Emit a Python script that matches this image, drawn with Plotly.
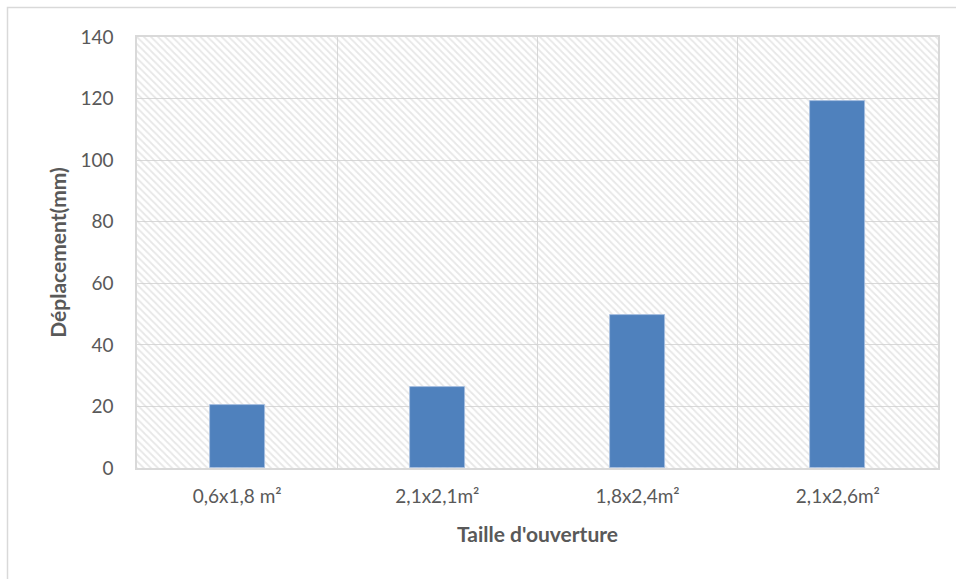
import plotly.graph_objects as go

categories = ["0,6x1,8 m²", "2,1x2,1m²", "1,8x2,4m²", "2,1x2,6m²"]
displacement_mm = [20.6, 26.2, 49.7, 119.3]
y_tick_values = [0, 20, 40, 60, 80, 100, 120, 140]

x_title = "Taille d'ouverture"
y_title = "Déplacement(mm)"

FONT = "Lato"
GRID = "#d9d9d9"
TEXT = "#595959"

fig = go.Figure()

# hatched plot-area background (drawn on base axis, under the data)
fig.add_trace(go.Bar(
    x=[0.5], y=[max(y_tick_values)], width=1,
    xaxis="x", yaxis="y",
    marker=dict(color="rgba(0,0,0,0)", line=dict(width=0),
                pattern=dict(shape="\\", fgcolor="#d0d0d0", bgcolor="rgba(0,0,0,0)",
                             size=5, solidity=0.35, fillmode="overlay")),
    hoverinfo="skip", showlegend=False,
))

fig.add_trace(go.Bar(
    x=categories, y=displacement_mm, width=0.275,
    xaxis="x2", yaxis="y",
    marker=dict(color="#4f81bd", line=dict(color="#a7bfdf", width=0.8)),
    showlegend=False,
))

W, H = 956, 579
L, R, T, B = 137, 18, 37, 111
pw, ph = W - L - R, H - T - B

fig.update_layout(
    width=W, height=H,
    margin=dict(l=L, r=R, t=T, b=B),
    paper_bgcolor="white", plot_bgcolor="white",
    font=dict(family=FONT, color=TEXT, size=19),
    xaxis=dict(visible=False, range=[0, 1], fixedrange=True),
    xaxis2=dict(
        overlaying="x", side="bottom", type="category",
        tickson="boundaries", showgrid=True, gridcolor=GRID, gridwidth=1,
        ticks="", showline=True, linecolor=GRID, linewidth=1.5, mirror=True,
        ticklabelstandoff=10,
        tickfont=dict(family=FONT, size=19, color=TEXT),
        title=dict(text="<b>" + x_title + "</b>", font=dict(family=FONT, size=21, color=TEXT), standoff=22),
        range=[-0.5, len(categories) - 0.5],
    ),
    yaxis=dict(
        range=[0, 140], tickvals=y_tick_values, showgrid=True, gridcolor=GRID, gridwidth=1,
        showline=True, linecolor=GRID, linewidth=1.5, mirror=True, ticks="",
        ticklabelstandoff=18, zeroline=False,
        tickfont=dict(family=FONT, size=19, color=TEXT),
        title=dict(text="<b>" + y_title + "</b>", font=dict(family=FONT, size=21, color=TEXT), standoff=8),
    ),
    bargap=0,
    shapes=[dict(
        type="rect", xref="paper", yref="paper",
        x0=(7.5 - L) / pw, x1=(W + 20 - L) / pw,
        y0=-(H + 20 - T - ph) / ph, y1=1 + (T - 7.5) / ph,
        line=dict(color=GRID, width=1.5), fillcolor="rgba(0,0,0,0)", layer="below",
    )],
)

fig.write_html("out.html", config={"displayModeBar": False},
               post_script="document.body.style.margin='0';")
